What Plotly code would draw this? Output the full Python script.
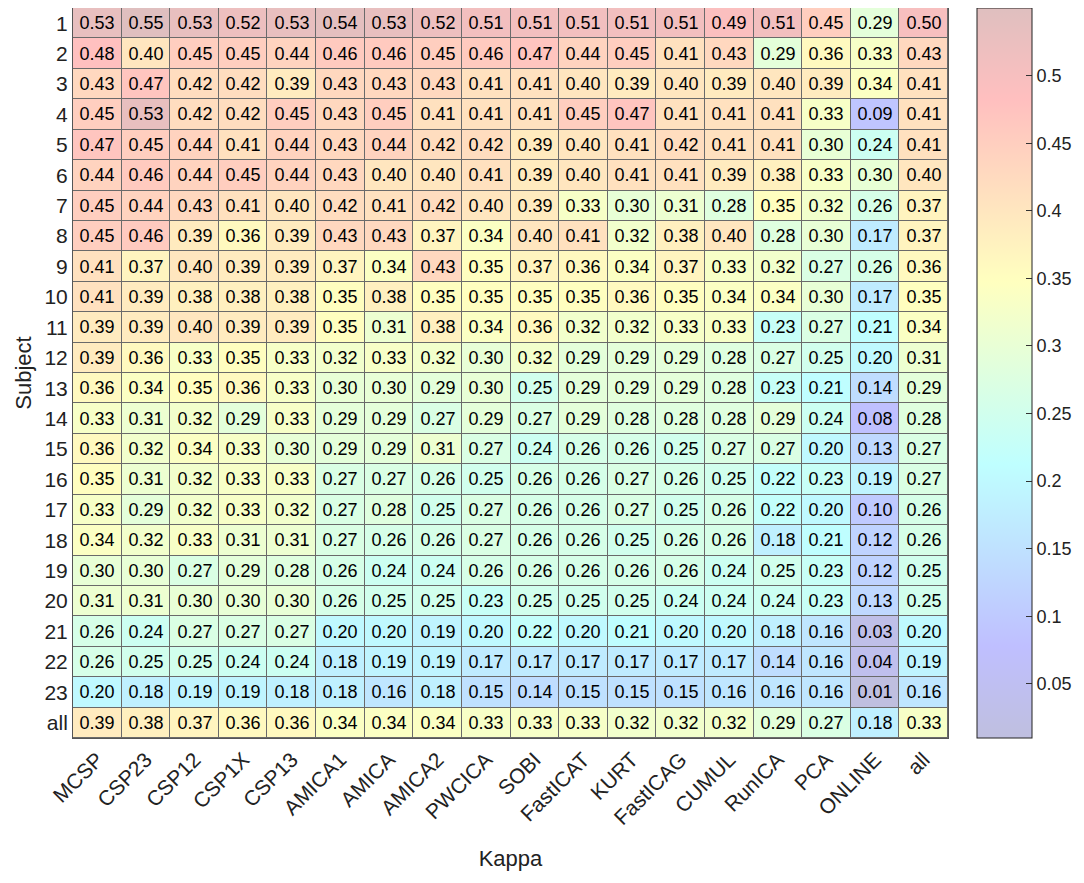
import plotly.graph_objects as go

methods = ["MCSP", "CSP23", "CSP12", "CSP1X", "CSP13", "AMICA1", "AMICA", "AMICA2",
           "PWCICA", "SOBI", "FastICAT", "KURT", "FastICAG", "CUMUL", "RunICA", "PCA",
           "ONLINE", "all"]
subjects = [str(i) for i in range(1, 24)] + ["all"]

kappa = [
    [0.53, 0.55, 0.53, 0.52, 0.53, 0.54, 0.53, 0.52, 0.51, 0.51, 0.51, 0.51, 0.51, 0.49, 0.51, 0.45, 0.29, 0.50],
    [0.48, 0.40, 0.45, 0.45, 0.44, 0.46, 0.46, 0.45, 0.46, 0.47, 0.44, 0.45, 0.41, 0.43, 0.29, 0.36, 0.33, 0.43],
    [0.43, 0.47, 0.42, 0.42, 0.39, 0.43, 0.43, 0.43, 0.41, 0.41, 0.40, 0.39, 0.40, 0.39, 0.40, 0.39, 0.34, 0.41],
    [0.45, 0.53, 0.42, 0.42, 0.45, 0.43, 0.45, 0.41, 0.41, 0.41, 0.45, 0.47, 0.41, 0.41, 0.41, 0.33, 0.09, 0.41],
    [0.47, 0.45, 0.44, 0.41, 0.44, 0.43, 0.44, 0.42, 0.42, 0.39, 0.40, 0.41, 0.42, 0.41, 0.41, 0.30, 0.24, 0.41],
    [0.44, 0.46, 0.44, 0.45, 0.44, 0.43, 0.40, 0.40, 0.41, 0.39, 0.40, 0.41, 0.41, 0.39, 0.38, 0.33, 0.30, 0.40],
    [0.45, 0.44, 0.43, 0.41, 0.40, 0.42, 0.41, 0.42, 0.40, 0.39, 0.33, 0.30, 0.31, 0.28, 0.35, 0.32, 0.26, 0.37],
    [0.45, 0.46, 0.39, 0.36, 0.39, 0.43, 0.43, 0.37, 0.34, 0.40, 0.41, 0.32, 0.38, 0.40, 0.28, 0.30, 0.17, 0.37],
    [0.41, 0.37, 0.40, 0.39, 0.39, 0.37, 0.34, 0.43, 0.35, 0.37, 0.36, 0.34, 0.37, 0.33, 0.32, 0.27, 0.26, 0.36],
    [0.41, 0.39, 0.38, 0.38, 0.38, 0.35, 0.38, 0.35, 0.35, 0.35, 0.35, 0.36, 0.35, 0.34, 0.34, 0.30, 0.17, 0.35],
    [0.39, 0.39, 0.40, 0.39, 0.39, 0.35, 0.31, 0.38, 0.34, 0.36, 0.32, 0.32, 0.33, 0.33, 0.23, 0.27, 0.21, 0.34],
    [0.39, 0.36, 0.33, 0.35, 0.33, 0.32, 0.33, 0.32, 0.30, 0.32, 0.29, 0.29, 0.29, 0.28, 0.27, 0.25, 0.20, 0.31],
    [0.36, 0.34, 0.35, 0.36, 0.33, 0.30, 0.30, 0.29, 0.30, 0.25, 0.29, 0.29, 0.29, 0.28, 0.23, 0.21, 0.14, 0.29],
    [0.33, 0.31, 0.32, 0.29, 0.33, 0.29, 0.29, 0.27, 0.29, 0.27, 0.29, 0.28, 0.28, 0.28, 0.29, 0.24, 0.08, 0.28],
    [0.36, 0.32, 0.34, 0.33, 0.30, 0.29, 0.29, 0.31, 0.27, 0.24, 0.26, 0.26, 0.25, 0.27, 0.27, 0.20, 0.13, 0.27],
    [0.35, 0.31, 0.32, 0.33, 0.33, 0.27, 0.27, 0.26, 0.25, 0.26, 0.26, 0.27, 0.26, 0.25, 0.22, 0.23, 0.19, 0.27],
    [0.33, 0.29, 0.32, 0.33, 0.32, 0.27, 0.28, 0.25, 0.27, 0.26, 0.26, 0.27, 0.25, 0.26, 0.22, 0.20, 0.10, 0.26],
    [0.34, 0.32, 0.33, 0.31, 0.31, 0.27, 0.26, 0.26, 0.27, 0.26, 0.26, 0.25, 0.26, 0.26, 0.18, 0.21, 0.12, 0.26],
    [0.30, 0.30, 0.27, 0.29, 0.28, 0.26, 0.24, 0.24, 0.26, 0.26, 0.26, 0.26, 0.26, 0.24, 0.25, 0.23, 0.12, 0.25],
    [0.31, 0.31, 0.30, 0.30, 0.30, 0.26, 0.25, 0.25, 0.23, 0.25, 0.25, 0.25, 0.24, 0.24, 0.24, 0.23, 0.13, 0.25],
    [0.26, 0.24, 0.27, 0.27, 0.27, 0.20, 0.20, 0.19, 0.20, 0.22, 0.20, 0.21, 0.20, 0.20, 0.18, 0.16, 0.03, 0.20],
    [0.26, 0.25, 0.25, 0.24, 0.24, 0.18, 0.19, 0.19, 0.17, 0.17, 0.17, 0.17, 0.17, 0.17, 0.14, 0.16, 0.04, 0.19],
    [0.20, 0.18, 0.19, 0.19, 0.18, 0.18, 0.16, 0.18, 0.15, 0.14, 0.15, 0.15, 0.15, 0.16, 0.16, 0.16, 0.01, 0.16],
    [0.39, 0.38, 0.37, 0.36, 0.36, 0.34, 0.34, 0.34, 0.33, 0.33, 0.33, 0.32, 0.32, 0.32, 0.29, 0.27, 0.18, 0.33],
]

# jet, washed out over white (25% opacity look)
jet = [(0, (0, 0, 0.5)), (0.125, (0, 0, 1)), (0.375, (0, 1, 1)),
       (0.625, (1, 1, 0)), (0.875, (1, 0, 0)), (1, (0.5, 0, 0))]
cscale = []
for pos, rgb in jet:
    r, g, b = [round(255 * (0.75 + 0.25 * c)) for c in rgb]
    cscale.append([pos, f"rgb({r},{g},{b})"])

labels = [[f"{v:.2f}" for v in row] for row in kappa]

fig = go.Figure(go.Heatmap(
    z=kappa, x=methods, y=subjects,
    text=labels, texttemplate="%{text}",
    textfont=dict(size=18, color="black", family="Arial"),
    colorscale=cscale, zmin=0.01, zmax=0.55,
    xgap=1, ygap=1,
    colorbar=dict(
        x=1.033, xanchor="left", xpad=0, y=0.5, yanchor="middle", len=1.0,
        ypad=0, thickness=55, outlinecolor="#222", outlinewidth=1,
        tickvals=[0.05, 0.1, 0.15, 0.2, 0.25, 0.3, 0.35, 0.4, 0.45, 0.5],
        ticktext=["0.05", "0.1", "0.15", "0.2", "0.25", "0.3", "0.35", "0.4", "0.45", "0.5"],
        ticks="inside", ticklen=6, tickcolor="#333",
        tickfont=dict(size=18, family="Arial", color="#222"),
    ),
))

# page body keeps an 8px margin, so the figure is 8px smaller and shifted
fig.update_layout(
    width=1076, height=875,
    margin=dict(l=65, r=136, t=0, b=145, autoexpand=False),
    plot_bgcolor="#6a6a6a", paper_bgcolor="white",
    font=dict(family="Arial", color="#222"),
)
fig.update_xaxes(
    tickangle=-45, tickfont=dict(size=21), ticks="", showgrid=False,
    title=dict(text="Kappa", font=dict(size=22), standoff=22),
    showline=True, linecolor="#555", mirror=True, automargin=False,
)
fig.update_yaxes(
    autorange="reversed", tickfont=dict(size=21), ticks="", showgrid=False,
    title=dict(text="Subject", font=dict(size=22), standoff=6),
    showline=True, linecolor="#555", mirror=True, automargin=False,
)

fig.write_html("out.html")
